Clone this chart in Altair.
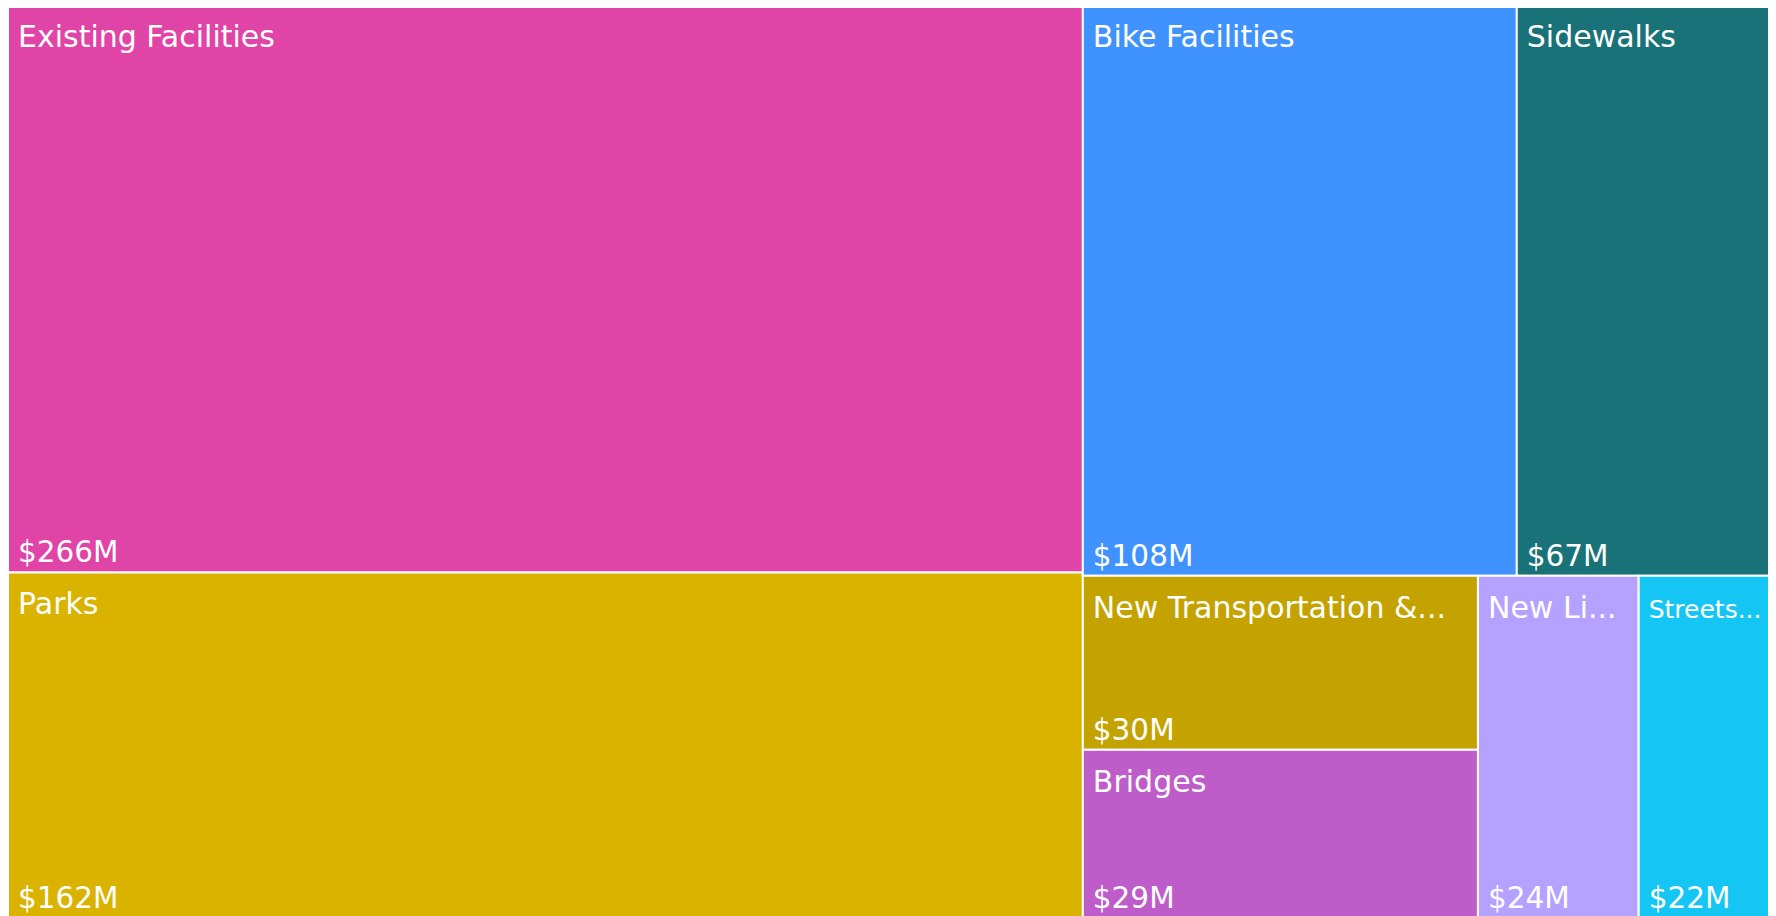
import altair as alt
import pandas as pd

# ---- data ----
names = ["Existing Facilities", "Parks", "Bike Facilities", "Sidewalks",
         "New Transportation &...", "Bridges", "New Li...", "Streets..."]
values = [266, 162, 108, 67, 30, 29, 24, 22]
value_labels = ["$266M", "$162M", "$108M", "$67M", "$30M", "$29M", "$24M", "$22M"]
colors = ["#E044A7", "#D9B300", "#4092FF", "#197278",
          "#C4A200", "#BE5DC9", "#B5A1FF", "#15C6F4"]

# ---- squarified treemap layout (d3 squarifyRatio, golden ratio) ----
PHI = (1 + 5 ** 0.5) / 2
TW, TH = 1778.0, 913.0


def squarify(vals, x0, y0, x1, y1, ratio=PHI):
    out = [None] * len(vals)
    n = len(vals)
    i0 = i1 = 0
    total = float(sum(vals))
    while i0 < n:
        dx, dy = x1 - x0, y1 - y0
        s = vals[i1]
        i1 += 1
        mn = mx = s
        alpha = max(dy / dx, dx / dy) / (total * ratio)
        beta = s * s * alpha
        min_ratio = max(mx / beta, beta / mn)
        while i1 < n:
            v = vals[i1]
            s2 = s + v
            mn2, mx2 = min(mn, v), max(mx, v)
            beta = s2 * s2 * alpha
            nr = max(mx2 / beta, beta / mn2)
            if nr > min_ratio:
                break
            s, mn, mx, min_ratio = s2, mn2, mx2, nr
            i1 += 1
        idx = list(range(i0, i1))
        if dx < dy:  # dice: row across the top
            yb = y0 + dy * s / total
            cx = x0
            for i in idx:
                w = dx * vals[i] / s
                out[i] = (cx, y0, cx + w, yb)
                cx += w
            y0 = yb
        else:  # slice: column on the left
            xb = x0 + dx * s / total
            cy = y0
            for i in idx:
                h = dy * vals[i] / s
                out[i] = (x0, cy, xb, cy + h)
                cy += h
            x0 = xb
        total -= s
        i0 = i1
    return out


rects = squarify(values, 0.0, 0.0, TW, TH)
df = pd.DataFrame({
    "name": names,
    "value": values,
    "label": value_labels,
    "x0": [r[0] for r in rects],
    "y0": [r[1] for r in rects],
    "x1": [r[2] for r in rects],
    "y1": [r[3] for r in rects],
})

W, H = 1760, 908
xs = alt.Scale(domain=[0, W], nice=False, zero=False)
ys = alt.Scale(domain=[3, 3 + H], nice=False, zero=False, reverse=True)
cs = alt.Scale(domain=names, range=colors)

base = alt.Chart(df)

rect = base.mark_rect(stroke="white", strokeWidth=2, clip=True).encode(
    x=alt.X("x0:Q", scale=xs, axis=None),
    x2="x1:Q",
    y=alt.Y("y0:Q", scale=ys, axis=None),
    y2="y1:Q",
    color=alt.Color("name:N", scale=cs, legend=None),
    tooltip=["name:N", "label:N"],
)

FONT = "DejaVu Sans"
name_txt = base.mark_text(
    align="left", baseline="alphabetic", dx=10, dy=42,
    font=FONT, color="white",
).encode(
    x=alt.X("x0:Q", scale=xs, axis=None),
    y=alt.Y("y0:Q", scale=ys, axis=None),
    text="name:N",
    size=alt.condition("datum.name === 'Streets...'", alt.value(25), alt.value(30)),
)

val_txt = base.mark_text(
    align="left", baseline="alphabetic", dx=10, dy=-10,
    font=FONT, fontSize=29.5, color="white",
).encode(
    x=alt.X("x0:Q", scale=xs, axis=None),
    y=alt.Y("y1:Q", scale=ys, axis=None),
    text="label:N",
)

chart = alt.layer(rect, name_txt, val_txt).properties(
    width=W, height=H,
    autosize=alt.AutoSizeParams(type="none"),
    padding=0,
    background="white",
).configure_view(stroke=None)

chart.save("out.html", embed_options={"renderer": "svg", "actions": False})
